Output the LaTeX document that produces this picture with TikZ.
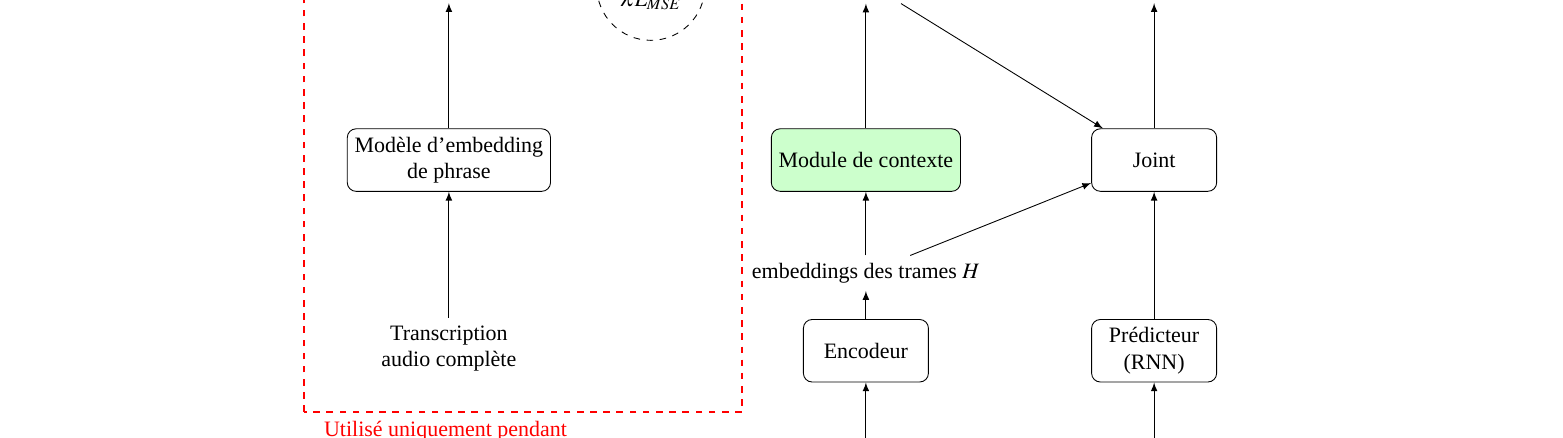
\documentclass[tikz,border=0pt]{standalone}
\usepackage{mathptmx}
\usepackage{fontspec}
\setmainfont{Liberation Serif}
\definecolor{ctxgreen}{RGB}{204,255,204}
\tikzset{
	box/.style={draw, rounded corners, minimum width=2cm, minimum height=1cm, align=center},
	trainbox/.style={draw=red, thick, dashed}
}
\begin{document}
\begin{tikzpicture}[>=latex]
		\useasboundingbox (0,-7) rectangle (25,0);
		\clip (0,-7) rectangle (25,0);

		% Draw the part used only during training
		\draw[trainbox] (4.86,-6.59) rectangle (11.87,1.5);
		\node[anchor=north west, text=red] (train) at (5.06,-6.62) {Utilisé uniquement pendant};

		\node[align=center] (trans) at (7.18,-5.57) {Transcription\\audio complète};
		\node[box] (phrase) at (7.18,-2.56) {Modèle d'embedding\\de phrase};
		\coordinate (phraseout) at (7.18,-0.05);

		\node[draw, dashed, circle, minimum size=1.73cm,
			label={[yshift=-0.22cm]center:$\lambda L_{MSE}$}] (mse) at (10.41,0.22) {};

		% Draw the transducer
		\node[box] (enc) at (13.85,-5.61) {Encodeur};
		\node (emb) at (13.85,-4.37) {embeddings des trames $H$};
		\node[box, fill=ctxgreen] (module) at (13.85,-2.56) {Module de contexte};
		\node[minimum width=1.6cm, minimum height=0.68cm] (ctx) at (13.85,0.29) {};

		\node[box] (pred) at (18.46,-5.61) {Prédicteur\\(RNN)};
		\node[box] (joint) at (18.46,-2.56) {Joint};
		\coordinate (jointout) at (18.46,-0.05);

		\coordinate (encin) at (13.85,-7.5);
		\coordinate (predin) at (18.46,-7.5);

		% Draw the arrows
		\draw[->] (trans) -- (phrase);
		\draw[->] (phrase) -- (phraseout);

		\draw[->] (encin) -- (enc);
		\draw[->] (enc) -- (emb);
		\draw[->] (emb) -- (module);
		\draw[->] (module) -- (ctx);
		\draw[->] (ctx) -- (joint);
		\draw[->] (emb) -- (joint.200);

		\draw[->] (predin) -- (pred);
		\draw[->] (pred) -- (joint);
		\draw[->] (joint) -- (jointout);

	\end{tikzpicture}
\end{document}
